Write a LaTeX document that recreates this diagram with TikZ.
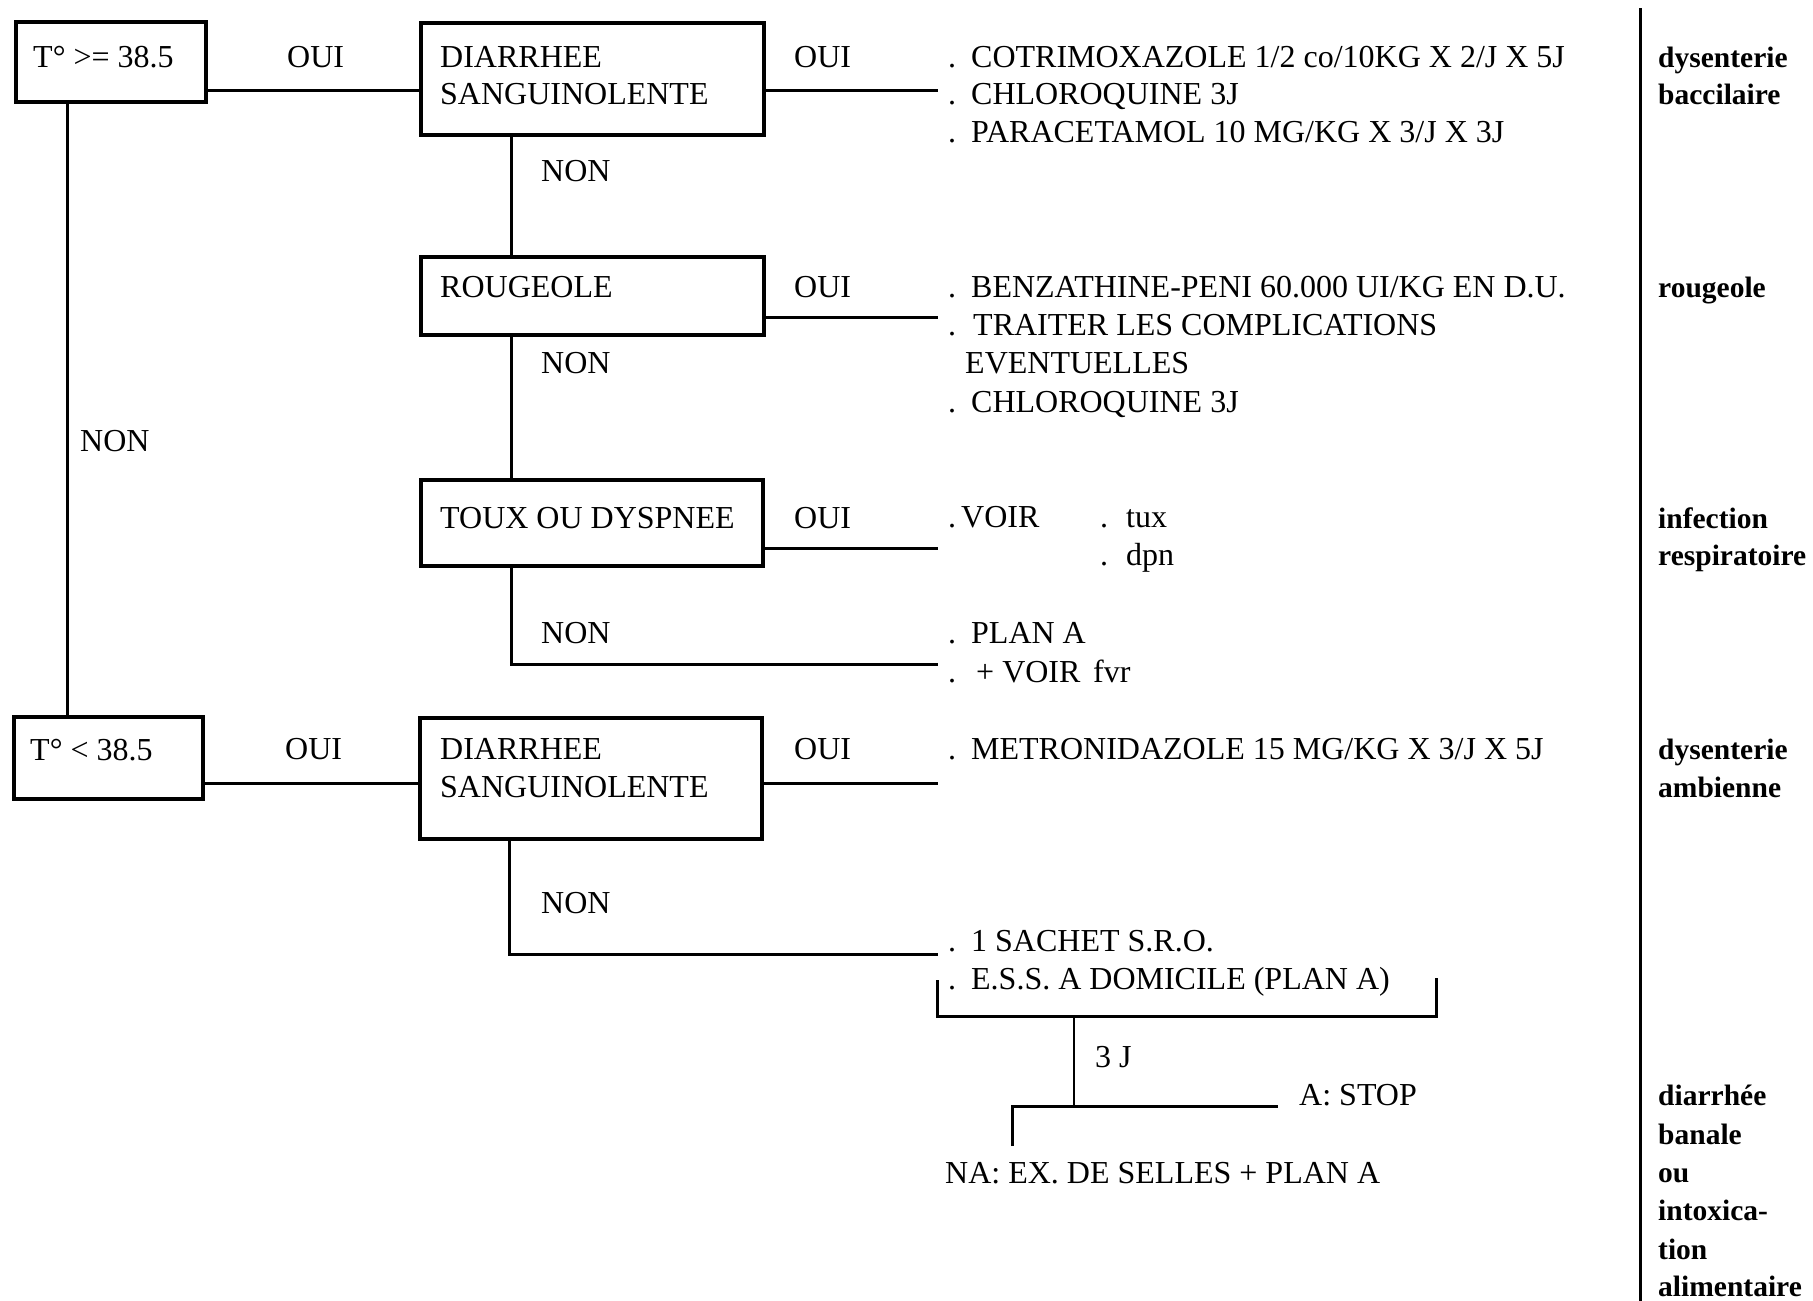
\documentclass[tikz,border=0pt]{standalone}
\usepackage{fontspec}
\setmainfont{Liberation Serif}
\begin{document}
\begin{tikzpicture}[x=1pt,y=-1pt]
\tikzset{
  box/.style={draw, line width=3.5pt, rectangle, inner sep=0pt, anchor=north west},
  conn/.style={line width=3pt},
  thinconn/.style={line width=2.4pt},
  txt/.style={inner sep=0pt, anchor=base west, font=\fontsize{32}{38}\selectfont},
  lab/.style={inner sep=0pt, anchor=base west, font=\fontsize{29.5}{38}\selectfont\bfseries},
}
\newcommand{\dotgap}{.\hspace{15pt}}
\useasboundingbox (0,0) rectangle (1813,1301);
\fill[white] (0,0) rectangle (1813,1301);

% boxes
\node[box, minimum width=190pt, minimum height=80pt] (b1) at (14,20) {};
\node[box, minimum width=343pt, minimum height=112pt] (b2) at (419,21) {};
\node[box, minimum width=343pt, minimum height=78pt] (b3) at (419,255) {};
\node[box, minimum width=342pt, minimum height=86pt] (b4) at (419,478) {};
\node[box, minimum width=189pt, minimum height=82pt] (b5) at (12,715) {};
\node[box, minimum width=342pt, minimum height=121pt] (b6) at (418,716) {};

% box texts
\node[txt] (t1) at (33,67) {T° >= 38.5};
\node[txt] (t2a) at (440,67) {DIARRHEE};
\node[txt] (t2b) at (440,104) {SANGUINOLENTE};
\node[txt] (t3) at (440,297) {ROUGEOLE};
\node[txt] (t4) at (440,528) {TOUX OU DYSPNEE};
\node[txt] (t5) at (30,760) {T° < 38.5};
\node[txt] (t6a) at (440,759) {DIARRHEE};
\node[txt] (t6b) at (440,797) {SANGUINOLENTE};

% OUI / NON labels
\node[txt] (o1) at (287,67) {OUI};
\node[txt] (o2) at (794,67) {OUI};
\node[txt] (o3) at (794,297) {OUI};
\node[txt] (o4) at (794,528) {OUI};
\node[txt] (o5) at (285,759) {OUI};
\node[txt] (o6) at (794,759) {OUI};
\node[txt] (n1) at (541,181) {NON};
\node[txt] (n2) at (541,373) {NON};
\node[txt] (n3) at (541,643) {NON};
\node[txt] (n4) at (541,913) {NON};
\node[txt] (n0) at (80,451) {NON};

% treatments
\node[txt] (r1a) at (948,67) {\dotgap COTRIMOXAZOLE 1/2 co/10KG X 2/J X 5J};
\node[txt] (r1b) at (948,104) {\dotgap CHLOROQUINE 3J};
\node[txt] (r1c) at (948,142) {\dotgap PARACETAMOL 10 MG/KG X 3/J X 3J};
\node[txt] (r2a) at (948,297) {\dotgap BENZATHINE-PENI 60.000 UI/KG EN D.U.};
\node[txt] (r2b) at (948,335) {.\hspace{17pt}TRAITER LES COMPLICATIONS};
\node[txt] (r2c) at (965,373) {EVENTUELLES};
\node[txt] (r2d) at (948,412) {\dotgap CHLOROQUINE 3J};
\node[txt] (r3a) at (948,527) {.\hspace{5pt}VOIR};
\node[txt] (r3b) at (1100,527) {.\hspace{18pt}tux};
\node[txt] (r3c) at (1100,565) {.\hspace{18pt}dpn};
\node[txt] (r4a) at (948,643) {\dotgap PLAN A};
\node[txt] (r4b) at (948,682) {.\hspace{20pt}+ VOIR};
\node[txt] (r4c) at (1093,682) {fvr};
\node[txt] (r5) at (948,759) {\dotgap METRONIDAZOLE 15 MG/KG X 3/J X 5J};
\node[txt] (r6a) at (948,951) {\dotgap 1 SACHET S.R.O.};
\node[txt] (r6b) at (948,989) {\dotgap E.S.S. A DOMICILE (PLAN A)};
\node[txt] (j3) at (1095,1067) {3 J};
\node[txt] (stop) at (1299,1105) {A: STOP};
\node[txt] (na) at (945,1183) {NA: EX. DE SELLES + PLAN A};

% diagnosis labels
\node[lab] (d1a) at (1658,67) {dysenterie};
\node[lab] (d1b) at (1658,104) {baccilaire};
\node[lab] (d2) at (1658,297) {rougeole};
\node[lab] (d3a) at (1658,528) {infection};
\node[lab] (d3b) at (1658,565) {respiratoire};
\node[lab] (d4a) at (1658,759) {dysenterie};
\node[lab] (d4b) at (1658,797) {ambienne};
\node[lab] (d5a) at (1658,1105) {diarrhée};
\node[lab] (d5b) at (1658,1144) {banale};
\node[lab] (d5c) at (1658,1182) {ou};
\node[lab] (d5d) at (1658,1220) {intoxica-};
\node[lab] (d5e) at (1658,1259) {tion};
\node[lab] (d5f) at (1658,1296) {alimentaire};

% helper coordinates
\coordinate (y1) at (0,90);
\coordinate (e1) at (938,90);
\coordinate (e2) at (938,317);
\coordinate (e3) at (938,548);
\coordinate (e4) at (938,664);
\coordinate (y5) at (0,783);
\coordinate (e5) at (938,783);
\coordinate (e6) at (938,954);
\coordinate (v0) at (67,0);
\coordinate (v1) at (511,0);
\coordinate (v2) at (509,0);
\coordinate (bl) at (937,980);
\coordinate (blc) at (937,1016);
\coordinate (brc) at (1436,1016);
\coordinate (br) at (1436,978);
\coordinate (ja) at (1074,1016);
\coordinate (jb) at (1074,1106);
\coordinate (ka) at (1012,1106);
\coordinate (kb) at (1278,1106);
\coordinate (kc) at (1012,1146);
\coordinate (dtop) at (1640,8);
\coordinate (dbot) at (1640,1301);

% connectors
\draw[conn] (b1.east |- y1) -- (b2.west |- y1);
\draw[conn] (b2.east |- e1) -- (e1);
\draw[conn] (b2.south -| v1) -- (b3.north -| v1);
\draw[conn] (b3.east |- e2) -- (e2);
\draw[conn] (b3.south -| v1) -- (b4.north -| v1);
\draw[conn] (b4.east |- e3) -- (e3);
\draw[conn] (b4.south -| v1) |- (e4);
\draw[conn] (b1.south -| v0) -- (b5.north -| v0);
\draw[conn] (b5.east |- y5) -- (b6.west |- y5);
\draw[conn] (b6.east |- e5) -- (e5);
\draw[conn] (b6.south -| v2) |- (e6);
\draw[conn] (bl) -- (blc) -- (brc) -- (br);
\draw[thinconn] (ja) -- (jb);
\draw[conn] (kc) -- (ka) -- (kb);
\draw[conn] (dtop) -- (dbot);
\end{tikzpicture}
\end{document}
